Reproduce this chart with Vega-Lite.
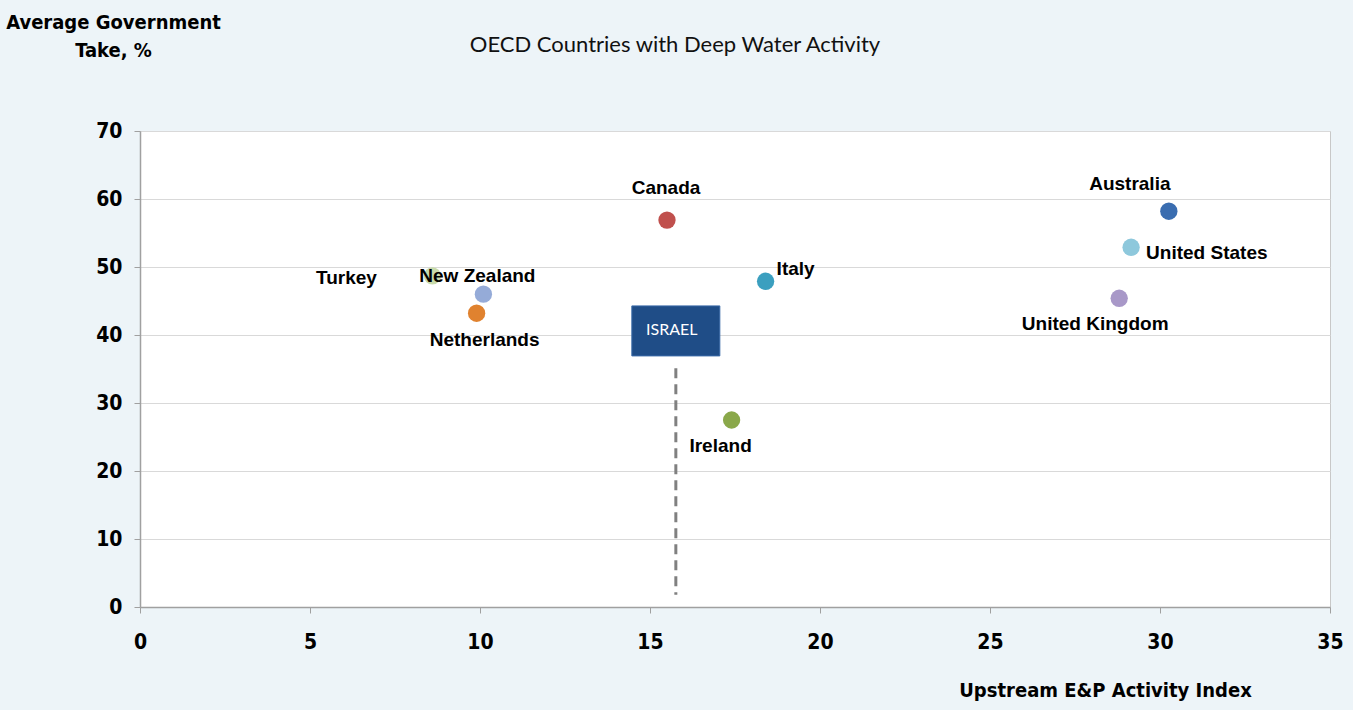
{
  "$schema": "https://vega.github.io/schema/vega-lite/v6.json",
  "autosize": {"type": "none"},
  "padding": {"left": 140, "top": 131, "right": 23, "bottom": 103},
  "width": 1190,
  "height": 476,
  "background": "#edf4f8",
  "view": {"fill": "#ffffff", "stroke": "#c8c8c8", "strokeWidth": 1},
  "title": {
    "text": "OECD Countries with Deep Water Activity",
    "font": "Lato",
    "fontSize": 22,
    "fontWeight": "normal",
    "color": "#111111",
    "anchor": "middle",
    "frame": "group",
    "dx": -60,
    "dy": 55,
    "offset": 10
  },
  "config": {
    "axis": {
      "labelFont": "DejaVu Sans Condensed, Liberation Sans",
      "labelFontSize": 21,
      "labelFontWeight": "bold",
      "labelColor": "#000000",
      "labelFlush": false,
      "titleFont": "DejaVu Sans Condensed, Liberation Sans",
      "titleFontSize": 20,
      "titleFontWeight": "bold",
      "titleColor": "#000000",
      "domainColor": "#a0a0a0",
      "domainWidth": 1.5,
      "tickColor": "#a0a0a0",
      "tickSize": 6,
      "gridColor": "#d9d9d9",
      "gridWidth": 1.2
    }
  },
  "datasets": {
    "countries": [
      {"country": "Canada", "index": 15.5, "take": 56.9},
      {"country": "Australia", "index": 30.26, "take": 58.2},
      {"country": "United States", "index": 29.15, "take": 52.9},
      {"country": "Italy", "index": 18.4, "take": 47.9},
      {"country": "Turkey", "index": 8.6, "take": 48.7},
      {"country": "New Zealand", "index": 10.1, "take": 46.0},
      {"country": "Netherlands", "index": 9.9, "take": 43.2},
      {"country": "United Kingdom", "index": 28.8, "take": 45.4},
      {"country": "Ireland", "index": 17.4, "take": 27.5}
    ],
    "israel": [
      {"country": "ISRAEL", "index": 15.76, "take": 40.6, "lineTop": 35.1, "lineBottom": 1.8}
    ]
  },
  "layer": [
    {
      "data": {"name": "israel"},
      "mark": {"type": "rule", "color": "#808080", "strokeWidth": 3, "strokeDash": [10, 6]},
      "encoding": {
        "x": {"field": "index", "type": "quantitative", "scale": {"domain": [0, 35], "nice": false},
          "axis": {"values": [0, 5, 10, 15, 20, 25, 30, 35], "grid": false, "labelPadding": 18,
            "title": "Upstream E&P Activity Index", "titleX": 965, "titleY": 83, "titleAlign": "center", "titleBaseline": "middle"}},
        "y": {"field": "lineTop", "type": "quantitative", "scale": {"domain": [0, 70], "nice": false},
          "axis": {"values": [0, 10, 20, 30, 40, 50, 60, 70], "grid": true, "labelPadding": 12,
            "title": ["Average Government", "Take, %"], "titleAngle": 0, "titleAlign": "center", "titleBaseline": "top",
            "titleX": -27, "titleY": -119, "titleLineHeight": 28}},
        "y2": {"field": "lineBottom"}
      }
    },
    {
      "data": {"name": "countries"},
      "mark": {"type": "point", "filled": true, "opacity": 1, "size": 300},
      "encoding": {
        "x": {"field": "index", "type": "quantitative"},
        "y": {"field": "take", "type": "quantitative"},
        "color": {"field": "country", "type": "nominal", "legend": null,
          "scale": {"domain": ["Canada", "Australia", "United States", "Italy", "Turkey", "New Zealand", "Netherlands", "United Kingdom", "Ireland"],
            "range": ["#c0504d", "#3a6db0", "#8ec8dc", "#3b9fbf", "#c9dbab", "#95abd8", "#e0822f", "#a898c8", "#8aa84a"]}}
      }
    },
    {
      "data": {"name": "countries"},
      "transform": [{"filter": "datum.country === 'Canada'"}],
      "mark": {"type": "text", "font": "Liberation Sans", "fontWeight": "bold", "fontSize": 19, "color": "#000", "align": "center", "baseline": "middle", "dx": -1, "dy": -32},
      "encoding": {"x": {"field": "index", "type": "quantitative"}, "y": {"field": "take", "type": "quantitative"}, "text": {"field": "country"}}
    },
    {
      "data": {"name": "countries"},
      "transform": [{"filter": "datum.country === 'Australia'"}],
      "mark": {"type": "text", "font": "Liberation Sans", "fontWeight": "bold", "fontSize": 19, "color": "#000", "align": "center", "baseline": "middle", "dx": -39, "dy": -27},
      "encoding": {"x": {"field": "index", "type": "quantitative"}, "y": {"field": "take", "type": "quantitative"}, "text": {"field": "country"}}
    },
    {
      "data": {"name": "countries"},
      "transform": [{"filter": "datum.country === 'United States'"}],
      "mark": {"type": "text", "font": "Liberation Sans", "fontWeight": "bold", "fontSize": 19, "color": "#000", "align": "left", "baseline": "middle", "dx": 15, "dy": 6},
      "encoding": {"x": {"field": "index", "type": "quantitative"}, "y": {"field": "take", "type": "quantitative"}, "text": {"field": "country"}}
    },
    {
      "data": {"name": "countries"},
      "transform": [{"filter": "datum.country === 'Italy'"}],
      "mark": {"type": "text", "font": "Liberation Sans", "fontWeight": "bold", "fontSize": 19, "color": "#000", "align": "left", "baseline": "middle", "dx": 11, "dy": -12},
      "encoding": {"x": {"field": "index", "type": "quantitative"}, "y": {"field": "take", "type": "quantitative"}, "text": {"field": "country"}}
    },
    {
      "data": {"name": "countries"},
      "transform": [{"filter": "datum.country === 'Turkey'"}],
      "mark": {"type": "text", "font": "Liberation Sans", "fontWeight": "bold", "fontSize": 19, "color": "#000", "align": "center", "baseline": "middle", "dx": -86, "dy": 2},
      "encoding": {"x": {"field": "index", "type": "quantitative"}, "y": {"field": "take", "type": "quantitative"}, "text": {"field": "country"}}
    },
    {
      "data": {"name": "countries"},
      "transform": [{"filter": "datum.country === 'New Zealand'"}],
      "mark": {"type": "text", "font": "Liberation Sans", "fontWeight": "bold", "fontSize": 19, "color": "#000", "align": "center", "baseline": "middle", "dx": -6, "dy": -18},
      "encoding": {"x": {"field": "index", "type": "quantitative"}, "y": {"field": "take", "type": "quantitative"}, "text": {"field": "country"}}
    },
    {
      "data": {"name": "countries"},
      "transform": [{"filter": "datum.country === 'Netherlands'"}],
      "mark": {"type": "text", "font": "Liberation Sans", "fontWeight": "bold", "fontSize": 19, "color": "#000", "align": "center", "baseline": "middle", "dx": 8, "dy": 27},
      "encoding": {"x": {"field": "index", "type": "quantitative"}, "y": {"field": "take", "type": "quantitative"}, "text": {"field": "country"}}
    },
    {
      "data": {"name": "countries"},
      "transform": [{"filter": "datum.country === 'United Kingdom'"}],
      "mark": {"type": "text", "font": "Liberation Sans", "fontWeight": "bold", "fontSize": 19, "color": "#000", "align": "center", "baseline": "middle", "dx": -24, "dy": 26},
      "encoding": {"x": {"field": "index", "type": "quantitative"}, "y": {"field": "take", "type": "quantitative"}, "text": {"field": "country"}}
    },
    {
      "data": {"name": "countries"},
      "transform": [{"filter": "datum.country === 'Ireland'"}],
      "mark": {"type": "text", "font": "Liberation Sans", "fontWeight": "bold", "fontSize": 19, "color": "#000", "align": "center", "baseline": "middle", "dx": -11, "dy": 26},
      "encoding": {"x": {"field": "index", "type": "quantitative"}, "y": {"field": "take", "type": "quantitative"}, "text": {"field": "country"}}
    },
    {
      "data": {"name": "israel"},
      "mark": {"type": "point", "filled": true, "opacity": 1, "size": 2500, "shape": "M-1.76,-1H1.76V1H-1.76Z", "color": "#1f4d87", "stroke": "#3a6aa8", "strokeWidth": 1},
      "encoding": {"x": {"field": "index", "type": "quantitative"}, "y": {"field": "take", "type": "quantitative"}}
    },
    {
      "data": {"name": "israel"},
      "mark": {"type": "text", "font": "Lato", "fontSize": 16, "color": "#ffffff", "align": "center", "baseline": "middle", "dx": -4, "dy": -1},
      "encoding": {"x": {"field": "index", "type": "quantitative"}, "y": {"field": "take", "type": "quantitative"}, "text": {"field": "country"}}
    }
  ]
}
